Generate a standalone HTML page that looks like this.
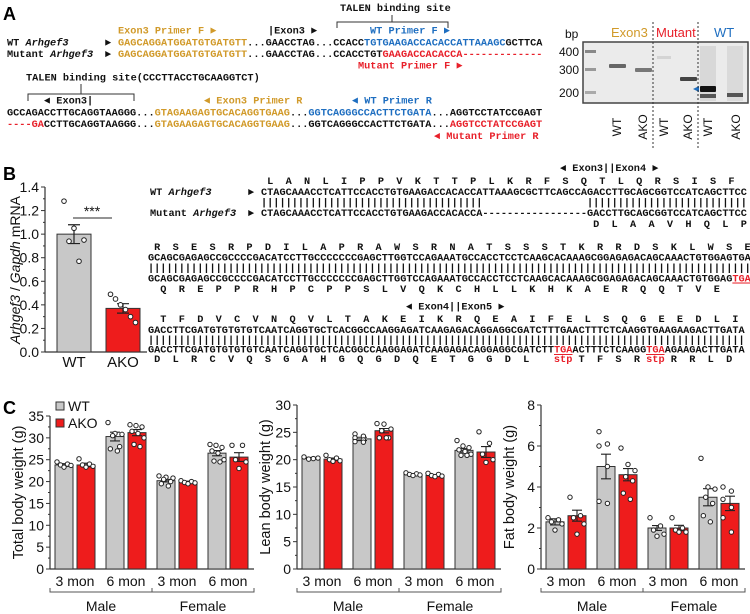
<!DOCTYPE html>
<html><head><meta charset="utf-8">
<style>
html,body{margin:0;padding:0;background:#fff;}
svg{display:block;}
.m{font-family:"Liberation Mono",monospace;font-weight:bold;font-size:10.25px;white-space:pre;}
.s{font-family:"Liberation Sans",sans-serif;}
.pl{font-family:"Liberation Sans",sans-serif;font-weight:bold;font-size:18px;}
</style></head>
<body>
<svg id="fig" width="750" height="614" viewBox="0 0 750 614" xmlns="http://www.w3.org/2000/svg">
<!-- Panel A -->
<g>
<text class="pl" x="3" y="20">A</text>
<text class="m" x="118" y="33.5" fill="#d19a2a">Exon3 Primer F ►</text>
<text class="m" x="268" y="33.5" fill="#111">|Exon3 ►</text>
<text class="m" x="340" y="11" fill="#111">TALEN binding site</text>
<path d="M337 28 V22 H448 V28 M392 22 V15" fill="none" stroke="#333" stroke-width="1"/>
<text class="m" x="370" y="33.5" fill="#1e6ec0">WT Primer F ►</text>
<text class="m" x="7" y="45.5" fill="#111">WT <tspan font-style="italic">Arhgef3</tspan></text>
<text class="m" x="7" y="57" fill="#111">Mutant <tspan font-style="italic">Arhgef3</tspan></text>
<text class="m" x="105" y="45.5" fill="#111">►</text>
<text class="m" x="105" y="57" fill="#111">►</text>
<text class="m" x="118" y="45.5"><tspan fill="#d19a2a">GAGCAGGATGGATGTGATGTT</tspan><tspan fill="#111">...GAACCTAG...CCACC</tspan><tspan fill="#1e6ec0">TGTGAAGACCACACCATTAAAGC</tspan><tspan fill="#111">GCTTCA</tspan></text>
<text class="m" x="118" y="57"><tspan fill="#d19a2a">GAGCAGGATGGATGTGATGTT</tspan><tspan fill="#111">...GAACCTAG...CCACCTGT</tspan><tspan fill="#e8202a">GAAGACCACACCA-------------</tspan></text>
<text class="m" x="358" y="68.5" fill="#e8202a">Mutant Primer F ►</text>
<text class="m" x="26" y="80.5" fill="#111">TALEN binding site(CCCTTACCTGCAAGGTCT)</text>
<path d="M28 101 V94 H134 V101 M81 94 V84" fill="none" stroke="#333" stroke-width="1"/>
<text class="m" x="44" y="103.5" fill="#111">◄ Exon3|</text>
<text class="m" x="204" y="103.5" fill="#d19a2a">◄ Exon3 Primer R</text>
<text class="m" x="352" y="103.5" fill="#1e6ec0">◄ WT Primer R</text>
<text class="m" x="7" y="115.5"><tspan fill="#111">GCCAGACCTTGCAGGTAAGGG...</tspan><tspan fill="#d19a2a">GTAGAAGAGTGCACAGGTGAAG</tspan><tspan fill="#111">...</tspan><tspan fill="#1e6ec0">GGTCAGGGCCACTTCTGATA</tspan><tspan fill="#111">...AGGTCCTATCCGAGT</tspan></text>
<text class="m" x="7" y="127"><tspan fill="#e8202a">----GA</tspan><tspan fill="#111">CCTTGCAGGTAAGGG...</tspan><tspan fill="#d19a2a">GTAGAAGAGTGCACAGGTGAAG</tspan><tspan fill="#111">...GGTCAGGGCCACTTCTGATA...</tspan><tspan fill="#e8202a">AGGTCCTATCCGAGT</tspan></text>
<text class="m" x="434" y="139" fill="#e8202a">◄ Mutant Primer R</text>
</g>
<!-- Gel -->
<g>
<text class="s" x="565" y="38" font-size="12" fill="#111">bp</text>
<text class="s" x="611" y="37" font-size="13" fill="#d19a2a">Exon3</text>
<text class="s" x="656" y="37" font-size="13" fill="#e8202a">Mutant</text>
<text class="s" x="714" y="37" font-size="13" fill="#1e6ec0">WT</text>
<text class="s" x="579" y="56" font-size="12" text-anchor="end" fill="#111">400</text>
<text class="s" x="579" y="74" font-size="12" text-anchor="end" fill="#111">300</text>
<text class="s" x="579" y="97" font-size="12" text-anchor="end" fill="#111">200</text>
<rect x="583" y="42" width="165" height="61" fill="#ebebeb" stroke="#444" stroke-width="1.5"/>
<rect x="585" y="50" width="11" height="3" fill="#888"/>
<rect x="585" y="68" width="11" height="3" fill="#999"/>
<rect x="585" y="91" width="11" height="3" fill="#aaa"/>
<rect x="609" y="64" width="17" height="4" rx="1" fill="#666"/>
<rect x="635" y="68" width="17" height="4" rx="1" fill="#777"/>
<rect x="657" y="56" width="14" height="3" fill="#d4d4d4"/>
<rect x="680" y="77" width="17" height="4" rx="1" fill="#444"/>
<rect x="700" y="46" width="16" height="55" fill="#d8d8d8"/>
<rect x="700" y="86" width="16" height="6" rx="1" fill="#111"/>
<rect x="700" y="94" width="16" height="4" fill="#555"/>
<rect x="727" y="46" width="16" height="55" fill="#dadada"/>
<rect x="727" y="93" width="16" height="4" fill="#555"/>
<path d="M693 89 L699 86 L699 92 Z" fill="#1e6ec0"/>
<line x1="653" y1="22" x2="653" y2="148" stroke="#333" stroke-dasharray="2,2"/>
<line x1="698" y1="22" x2="698" y2="148" stroke="#333" stroke-dasharray="2,2"/>
<g class="s" font-size="12" fill="#111">
<text transform="translate(621,127) rotate(-90)" text-anchor="middle">WT</text>
<text transform="translate(647,127) rotate(-90)" text-anchor="middle">AKO</text>
<text transform="translate(668,127) rotate(-90)" text-anchor="middle">WT</text>
<text transform="translate(692,127) rotate(-90)" text-anchor="middle">AKO</text>
<text transform="translate(712,127) rotate(-90)" text-anchor="middle">WT</text>
<text transform="translate(740,127) rotate(-90)" text-anchor="middle">AKO</text>
</g>
</g>
<!-- Panel B -->
<text class="pl" x="3" y="180">B</text>
<g id="bchart"></g>
<g id="bseq">
<text class="m" x="560" y="171" fill="#111">◄ Exon3||Exon4 ►</text>
<text class="m" x="150" y="195" fill="#111">WT <tspan font-style="italic">Arhgef3</tspan></text>
<text class="m" x="150" y="216" fill="#111">Mutant <tspan font-style="italic">Arhgef3</tspan></text>
<text class="m" x="248" y="195" fill="#111">►</text>
<text class="m" x="248" y="216" fill="#111">►</text>
<text class="m" x="261" y="195" fill="#111">CTAGCAAACCTCATTCCACCTGTGAAGACCACACCATTAAAGCGCTTCAGCCAGACCTTGCAGCGGTCCATCAGCTTCC</text>
<text class="m" x="261" y="205.5" fill="#111">||||||||||||||||||||||||||||||||||||                 ||||||||||||||||||||||||||</text>
<text class="m" x="261" y="216" fill="#111">CTAGCAAACCTCATTCCACCTGTGAAGACCACACCA-----------------GACCTTGCAGCGGTCCATCAGCTTCC</text>
<text class="m" x="148" y="260.5" fill="#111">GCAGCGAGAGCCGCCCCGACATCCTTGCCCCCCCGAGCTTGGTCCAGAAATGCCACCTCCTCAAGCACAAAGCGGAGAGACAGCAAACTGTGGAGTGA</text>
<text class="m" x="148" y="271" fill="#111">||||||||||||||||||||||||||||||||||||||||||||||||||||||||||||||||||||||||||||||||||||||||||||||||||</text>
<text class="m" x="148" y="281.5"><tspan fill="#111">GCAGCGAGAGCCGCCCCGACATCCTTGCCCCCCCGAGCTTGGTCCAGAAATGCCACCTCCTCAAGCACAAAGCGGAGAGACAGCAAACTGTGGAG</tspan><tspan fill="#e8202a" text-decoration="underline">TGA</tspan></text>
<text class="m" x="406" y="309.5" fill="#111">◄ Exon4||Exon5 ►</text>
<text class="m" x="148" y="333" fill="#111">GACCTTCGATGTGTGTGTCAATCAGGTGCTCACGGCCAAGGAGATCAAGAGACAGGAGGCGATCTTTGAACTTTCTCAAGGTGAAGAAGACTTGATA</text>
<text class="m" x="148" y="343" fill="#111">|||||||||||||||||||||||||||||||||||||||||||||||||||||||||||||||||||||||||||||||||||||||||||||||||</text>
<text class="m" x="148" y="352.5"><tspan fill="#111">GACCTTCGATGTGTGTGTCAATCAGGTGCTCACGGCCAAGGAGATCAAGAGACAGGAGGCGATCTT</tspan><tspan fill="#e8202a">TGA</tspan><tspan fill="#111">ACTTTCTCAAGG</tspan><tspan fill="#e8202a">TGA</tspan><tspan fill="#111">AGAAGACTTGATA</tspan></text>
<line x1="554" y1="354.5" x2="572.5" y2="354.5" stroke="#e8202a" stroke-width="1"/>
<line x1="646" y1="354.5" x2="664.5" y2="354.5" stroke="#e8202a" stroke-width="1"/>
</g>
<!-- Panel C -->
<text class="pl" x="3" y="414">C</text>
<g id="cchart"></g>
</svg>
<script>
// ---------- Panel B bar chart data ----------
const bCategories = ["WT", "AKO"];
const bMeans = [1.0, 0.37];
const bErrors = [0.08, 0.04];
const bPointsWT = [1.28, 1.05, 0.95, 0.94, 0.77];
const bPointsAKO = [0.49, 0.45, 0.40, 0.36, 0.30, 0.25];
const bTicks = [0, 0.2, 0.4, 0.6, 0.8, 1.0, 1.2, 1.4];
const bTickLabels = ["0.0", "0.2", "0.4", "0.6", "0.8", "1.0", "1.2", "1.4"];

// ---------- Panel C data ----------
const cGroups = ["3 mon", "6 mon", "3 mon", "6 mon"];
const cSex = ["Male", "Female"];
const totalWT = [23.8, 30.3, 20.2, 26.5];
const totalAKO = [23.8, 31.2, 19.9, 25.6];
const totalWTErr = [0.3, 1.0, 0.3, 0.6];
const totalAKOErr = [0.4, 0.7, 0.2, 1.0];
const leanWT = [20.3, 23.8, 17.3, 21.7];
const leanAKO = [20.1, 25.3, 17.1, 21.4];
const leanWTErr = [0.1, 0.3, 0.1, 0.3];
const leanAKOErr = [0.2, 0.4, 0.1, 1.0];
const fatWT = [2.3, 5.0, 2.0, 3.5];
const fatAKO = [2.6, 4.6, 2.0, 3.2];
const fatWTErr = [0.15, 0.6, 0.12, 0.42];
const fatAKOErr = [0.27, 0.3, 0.13, 0.35];
const totalWTPts = [[24.5,24,23.8,23.7,23.3],[33.5,31,30.8,30.5,28,27.5,27],[21.3,21,20.8,20.5,20,19.5,19],[28.5,28.3,27.8,27,26.5,25,24.7,24.5]];
const totalAKOPts = [[25.2,24,23.8,23.5,23.3],[33,32.8,32.5,31.5,31,30,28.5,28],[20.2,20,19.8,19.7,19.5],[28.3,28.3,25,24.5,23]];
const leanWTPts = [[20.5,20.3,20.2,20.1],[24.7,24.3,24,23.6,23.3,23.2],[17.6,17.4,17.3,17.2,17.1],[23.5,22.5,22.2,21.8,21.5,21,20.8,20.8]];
const leanAKOPts = [[20.8,20.3,20,19.8,19.7],[26.6,26.5,25.6,25.3,24,24,24],[17.5,17.3,17.1,17,16.9],[25.1,23,21,20,19.5]];
const fatWTPts = [[2.5,2.4,2.3,2.2,1.9],[6.7,6.1,6.0,5.0,3.3,3.2],[2.5,2.1,1.9,1.7,1.6],[5.4,4.0,3.9,3.5,3.2,2.6,2.3]];
const fatAKOPts = [[3.5,2.6,2.5,2.2,1.7],[5.9,5.1,4.8,4.5,4.3,3.7,3.4],[2.5,2.0,1.9,1.8,1.8],[4.0,3.8,3.4,3.0,2.5,1.8]];
const totalTicks = [0,5,10,15,20,25,30,35];
const leanTicks = [0,5,10,15,20,25,30];
const fatTicks = [0,2,4,6,8];

// ---------- Amino acid rows ----------
const aa1 = "LANLIPPVKTTPLKRFSQTLQRSISF".split("");
const aa1m = "DLAAVHQLP".split("");
const aa2 = "RSESRPDILAPRAWSRNATSSSTKRRDSKLWSE".split("");
const aa2m = "QREPPRHPCPPSLVQKCHLLKHKAERQQTVE".split("");
const aa3 = "TFDVCVNQVLTAKEIKRQEAIFELSQGEEDLI".split("");
const aa3m = ["D","L","R","C","V","Q","S","G","A","H","G","Q","G","D","Q","E","T","G","G","D","L","stp","T","F","S","R","stp","R","R","L","D"];

const NS = "http://www.w3.org/2000/svg";
function el(tag, attrs, parent, txt) {
  const e = document.createElementNS(NS, tag);
  for (const k in attrs) e.setAttribute(k, attrs[k]);
  if (txt !== undefined) e.textContent = txt;
  parent.appendChild(e);
  return e;
}
const CW = 6.15;
const bseq = document.getElementById("bseq");
function aaRow(list, x0, y, startChar, step, extra) {
  list.forEach((a, i) => {
    let c = startChar + i * step;
    if (extra) c = extra(i, c);
    const t = el("text", {class: "m", x: x0 + (c + 0.5) * CW, y: y, "text-anchor": "middle", fill: a === "stp" ? "#e8202a" : "#111"}, bseq, a);
    
    
  });
}
aaRow(aa1, 261, 184, 1, 3);
aaRow(aa1m, 261, 227, 54, 3);
aaRow(aa2, 148, 250, 1, 3);
aaRow(aa2m, 148, 292, 2, 3, (i, c) => i >= 31 ? 96 : c);
aaRow(aa3, 148, 322, 2, 3);
aaRow(aa3m, 148, 362, 1, 3, (i, c) => {
  if (i <= 20) return 1 + i * 3;
  if (i === 21) return 67;
  const pos = [70, 73, 76, 79, 82, 85, 88, 91, 94];
  return pos[i - 22];
});

// ---------- Panel B chart ----------
const bc = document.getElementById("bchart");
const bY0 = 352, bY1 = 187, bAxisX = 45;
function byScale(v) { return bY0 - (v / 1.4) * (bY0 - bY1); }
el("line", {x1: bAxisX, y1: bY0, x2: bAxisX, y2: bY1, stroke: "#333", "stroke-width": 1.2}, bc);
el("line", {x1: bAxisX, y1: bY0, x2: 147, y2: bY0, stroke: "#333", "stroke-width": 1.2}, bc);
bTicks.forEach((t, i) => {
  const y = byScale(t);
  el("line", {x1: bAxisX - 4, y1: y, x2: bAxisX, y2: y, stroke: "#333"}, bc);
  const tl = el("text", {class: "s", x: bAxisX - 6, y: y + 5, "font-size": 14, "text-anchor": "end", fill: "#111"}, bc, bTickLabels[i]);
  
  
  if (i < bTicks.length - 1) {
    const ym = byScale(t + 0.1);
    el("line", {x1: bAxisX - 2, y1: ym, x2: bAxisX, y2: ym, stroke: "#333"}, bc);
  }
});
const bYT = el("text", {class: "s", transform: "translate(20,270) rotate(-90)", "font-size": 14, "text-anchor": "middle", fill: "#111"}, bc);


bYT.innerHTML = '<tspan font-style="italic">Arhgef3</tspan> / <tspan font-style="italic">Gapdh</tspan> mRNA';
const bBarX = [57, 106], bBarW = 34;
const bPts = [bPointsWT, bPointsAKO];
bCategories.forEach((c, i) => {
  const y = byScale(bMeans[i]);
  const r = el("rect", {x: bBarX[i], y: y, width: bBarW, height: bY0 - y, fill: i ? "#ee1c1c" : "#c8c8c8", stroke: "#333", "stroke-width": 1}, bc);
  
  
  const cx = bBarX[i] + bBarW / 2;
  const ye1 = byScale(bMeans[i] + bErrors[i]), ye2 = byScale(bMeans[i] - bErrors[i]);
  el("path", {d: `M${cx} ${ye1} V${ye2} M${cx-6} ${ye1} H${cx+6} M${cx-6} ${ye2} H${cx+6}`, stroke: "#222", "stroke-width": 1.2, fill: "none"}, bc);
  bPts[i].forEach((v, j) => {
    const n = bPts[i].length;
    const dx = ((j * 7) % n - (n - 1) / 2) * 5;
    el("circle", {cx: cx + dx, cy: byScale(v), r: 2.3, fill: "#fff", stroke: "#222", "stroke-width": 1}, bc);
  });
  const lab = el("text", {class: "s", x: cx, y: 367, "font-size": 15, "text-anchor": "middle", fill: "#111"}, bc, c);
  
  
});
el("line", {x1: 73, y1: 218, x2: 112, y2: 218, stroke: "#555", "stroke-width": 1.2}, bc);
const sig = el("text", {class: "s", x: 92, y: 216, "font-size": 14, "text-anchor": "middle", fill: "#111"}, bc, "***");



// ---------- Panel C charts ----------
const cc = document.getElementById("cchart");
const charts = [
  {name: "total", title: "Total body weight (g)", ax: 50, yTopPx: 416, max: 35, ticks: totalTicks, wt: totalWT, ako: totalAKO, we: totalWTErr, ae: totalAKOErr, wp: totalWTPts, ap: totalAKOPts, minor: 2.5},
  {name: "lean", title: "Lean body weight (g)", ax: 297, yTopPx: 405, max: 30, ticks: leanTicks, wt: leanWT, ako: leanAKO, we: leanWTErr, ae: leanAKOErr, wp: leanWTPts, ap: leanAKOPts, minor: 2.5},
  {name: "fat", title: "Fat body weight (g)", ax: 541, yTopPx: 405, max: 8, ticks: fatTicks, wt: fatWT, ako: fatAKO, we: fatWTErr, ae: fatAKOErr, wp: fatWTPts, ap: fatAKOPts, minor: 1}
];
const cY0 = 569;
charts.forEach(ch => {
  const g = el("g", {}, cc);
  
  
  const ys = v => cY0 - (v / ch.max) * (cY0 - ch.yTopPx);
  const ax = ch.ax;
  el("line", {x1: ax, y1: cY0, x2: ax, y2: ch.yTopPx, stroke: "#333", "stroke-width": 1.2}, g);
  el("line", {x1: ax, y1: cY0, x2: ax + 204, y2: cY0, stroke: "#333", "stroke-width": 1.2}, g);
  ch.ticks.forEach((t, i) => {
    const y = ys(t);
    el("line", {x1: ax - 4, y1: y, x2: ax, y2: y, stroke: "#333"}, g);
    const tl = el("text", {class: "s", x: ax - 6, y: y + 5, "font-size": 14, "text-anchor": "end", fill: "#111"}, g, String(t));
    
    
    if (i < ch.ticks.length - 1) {
      const ym = ys(t + ch.minor);
      el("line", {x1: ax - 2, y1: ym, x2: ax, y2: ym, stroke: "#333"}, g);
    }
  });
  const yt = el("text", {class: "s", transform: `translate(${ax - 27},${(cY0 + ch.yTopPx) / 2}) rotate(-90)`, "font-size": 14.5, "text-anchor": "middle", fill: "#111"}, g, ch.title);
  
  
  cGroups.forEach((gl, gi) => {
    const x0 = ax + 5 + gi * 51;
    [[ch.wt, ch.we, ch.wp, "#c8c8c8", "wt"], [ch.ako, ch.ae, ch.ap, "#ee1c1c", "ako"]].forEach((s, si) => {
      const bx = x0 + si * 22;
      const y = ys(s[0][gi]);
      const r = el("rect", {x: bx, y: y, width: 18, height: cY0 - y, fill: s[3], stroke: "#333", "stroke-width": 1}, g);
      
      
      const cx = bx + 9;
      const e1 = ys(s[0][gi] + s[1][gi]), e2 = ys(s[0][gi] - s[1][gi]);
      el("path", {d: `M${cx} ${e1} V${e2} M${cx-5} ${e1} H${cx+5} M${cx-5} ${e2} H${cx+5}`, stroke: "#222", "stroke-width": 1.1, fill: "none"}, g);
      const pts = s[2][gi];
      pts.forEach((v, j) => {
        const n = pts.length;
        const dx = (((j * 3) % n) - (n - 1) / 2) * (14 / Math.max(n - 1, 1));
        el("circle", {cx: cx + dx, cy: ys(v), r: 2.2, fill: "#fff", stroke: "#222", "stroke-width": 1}, g);
      });
    });
    const lab = el("text", {class: "s", x: x0 + 20, y: 586, "font-size": 14, "text-anchor": "middle", fill: "#111"}, g, gl);
    
    
  });
  el("path", {d: `M${ax} 588 V592 H${ax + 204} V588 M${ax + 102} 592 V588`, stroke: "#555", "stroke-width": 1, fill: "none"}, g);
  cSex.forEach((sx, i) => {
    const t = el("text", {class: "s", x: ax + 51 + i * 102, y: 611, "font-size": 14, "text-anchor": "middle", fill: "#111"}, g, sx);
    
    
  });
});
// Legend
const lg = el("g", {}, cc);


el("rect", {x: 56, y: 402, width: 8, height: 8, fill: "#c8c8c8", stroke: "#333"}, lg);
const l1 = el("text", {class: "s", x: 68, y: 411, "font-size": 14, fill: "#111"}, lg, "WT");


el("rect", {x: 56, y: 419, width: 8, height: 8, fill: "#ee1c1c", stroke: "#333"}, lg);
const l2 = el("text", {class: "s", x: 68, y: 428, "font-size": 14, fill: "#111"}, lg, "AKO");


</script>
</body></html>
